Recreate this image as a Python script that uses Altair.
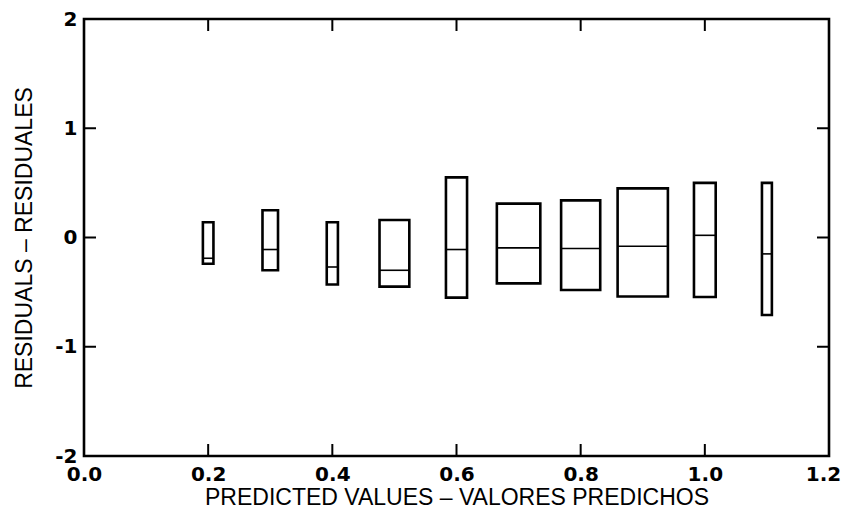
import altair as alt
import pandas as pd

# Box data
x_center = [0.2, 0.3, 0.4, 0.5, 0.6, 0.7, 0.8, 0.9, 1.0, 1.1]
box_width = [0.017, 0.025, 0.018, 0.048, 0.034, 0.070, 0.063, 0.081, 0.035, 0.016]
upper = [0.14, 0.25, 0.14, 0.16, 0.55, 0.31, 0.34, 0.45, 0.50, 0.50]
lower = [-0.24, -0.30, -0.43, -0.45, -0.55, -0.42, -0.48, -0.54, -0.545, -0.71]
median = [-0.19, -0.11, -0.27, -0.30, -0.11, -0.095, -0.10, -0.08, 0.02, -0.15]

x_ticks = [0.0, 0.2, 0.4, 0.6, 0.8, 1.0, 1.2]
y_ticks = [-2, -1, 0, 1, 2]
x_inner_ticks = [0.2, 0.4, 0.6, 0.8, 1.0]
y_inner_ticks = [-1, 0, 1]

W, H = 745, 437
TICK = 12
LABEL_FONT = "DejaVu Sans"
TITLE_FONT = "Liberation Sans"

df = pd.DataFrame({"xc": x_center, "w": box_width, "hi": upper, "lo": lower, "med": median})
xt = pd.DataFrame({"v": x_inner_ticks})
yt = pd.DataFrame({"v": y_inner_ticks})

xscale = alt.Scale(domain=[0, 1.2], nice=False, zero=False)
yscale = alt.Scale(domain=[-2, 2], nice=False, zero=False)

xaxis = alt.Axis(values=x_ticks, format=".1f", labelPadding=8,
                 labelOffset={"condition": {"test": "datum.value >= 1.15", "value": -6}, "value": 0},
                 title="PREDICTED VALUES \u2013 VALORES PREDICHOS", titlePadding=2)
yaxis = alt.Axis(values=y_ticks, format="d", labelPadding=7, labelBaseline="middle",
                 labelExpr="replace(datum.label, '\u2212', '-')",
                 title="RESIDUALS \u2013 RESIDUALES", titlePadding=18)

base = alt.Chart(df).transform_calculate(x0="datum.xc - datum.w/2", x1="datum.xc + datum.w/2")

boxes = base.mark_rect(fill=None, stroke="black", strokeWidth=2.6).encode(
    x=alt.X("x0:Q", scale=xscale, axis=xaxis),
    x2="x1:Q",
    y=alt.Y("lo:Q", scale=yscale, axis=yaxis),
    y2="hi:Q",
)
meds = base.mark_rule(color="black", strokeWidth=1.6).encode(
    x=alt.X("x0:Q", scale=xscale), x2="x1:Q",
    y=alt.Y("med:Q", scale=yscale)
)

tick_style = dict(color="black", strokeWidth=2)
bottom_ticks = alt.Chart(xt).mark_rule(**tick_style).encode(
    x=alt.X("v:Q", scale=xscale), y=alt.value(H - TICK), y2=alt.value(H))
top_ticks = alt.Chart(xt).mark_rule(**tick_style).encode(
    x=alt.X("v:Q", scale=xscale), y=alt.value(0), y2=alt.value(TICK))
left_ticks = alt.Chart(yt).mark_rule(**tick_style).encode(
    y=alt.Y("v:Q", scale=yscale), x=alt.value(0), x2=alt.value(TICK))
right_ticks = alt.Chart(yt).mark_rule(**tick_style).encode(
    y=alt.Y("v:Q", scale=yscale), x=alt.value(W - TICK), x2=alt.value(W))

chart = alt.layer(boxes, meds, bottom_ticks, top_ticks, left_ticks, right_ticks).properties(
    width=W, height=H,
    autosize=alt.AutoSizeParams(type="none"),
    padding={"left": 76, "top": 11, "right": 12, "bottom": 54},
    background="white",
).configure_view(stroke="black", strokeWidth=2.6).configure_axis(
    ticks=False, domain=False, grid=False, labelFlush=False,
    labelFont=LABEL_FONT, labelFontWeight="bold", labelFontSize=20, labelColor="black",
    titleFont=TITLE_FONT, titleFontWeight="normal", titleFontSize=23, titleColor="black",
)

chart.save("out.html", embed_options={"renderer": "svg", "actions": False})
